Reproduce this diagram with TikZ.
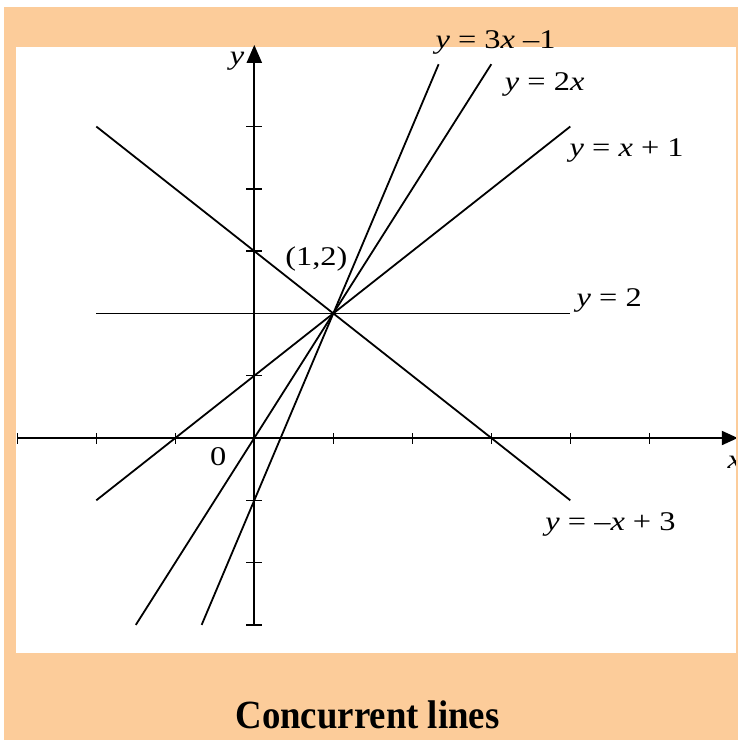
\documentclass[tikz,border=0pt]{standalone}
\usepackage{fontspec}
\setmainfont{Liberation Serif}
\usetikzlibrary{arrows.meta}
\definecolor{peach}{RGB}{252,204,154}
\newcommand{\hstretch}[1]{\scalebox{1.2}[1]{#1}}
\tikzset{
  axisline/.style={line width=2.2pt, black},
  graphline/.style={line width=1.8pt, black},
  tickmark/.style={line width=1.4pt, black},
  lab/.style={font=\fontsize{27}{31}\selectfont, inner sep=0pt, anchor=base},
  ttl/.style={font=\fontsize{40}{46}\selectfont\bfseries, inner sep=0pt, anchor=base}
}
\begin{document}
\begin{tikzpicture}
\useasboundingbox (0,0) rectangle (738pt,-740pt);
\fill[white] (0,0) rectangle (738pt,-740pt);
\fill[peach] (4pt,-7pt) rectangle (738pt,-740pt);
\fill[white] (16pt,-47pt) rectangle (735.5pt,-653pt);

\begin{scope}[shift={(254.3pt,-438pt)}, x=79pt, y=62.3pt]
  \coordinate (O) at (0,0);
  \coordinate (xL) at (-3,0);
  \coordinate (xR) at (6.12,0);
  \coordinate (yB) at (0,-3);
  \coordinate (yT) at (0,6.31);
  % axes
  \draw[axisline, -{Triangle[length=16pt,width=14pt]}] (xL) -- (xR);
  \draw[axisline, -{Triangle[length=18pt,width=15pt]}] (yB) -- (yT);
  \foreach \t in {-3,-2,-1,1,2,3,4,5} {
    \draw[tickmark] (\t,0) ++(0,-5.5pt) -- ++(0,11pt);
    \draw[tickmark] (0,\t) ++(-8pt,0) -- ++(16pt,0);
  }
  % line end points
  \coordinate (a1) at (-2,5);    \coordinate (a2) at (4,-1);
  \coordinate (b1) at (-2,2);    \coordinate (b2) at (4,2);
  \coordinate (c1) at (-2,-1);   \coordinate (c2) at (4,5);
  \coordinate (d1) at (-1.5,-3); \coordinate (d2) at (3,6);
  \coordinate (e1) at (-0.6667,-3); \coordinate (e2) at (2.3333,6);
  \draw[graphline] (a1) -- (a2);
  \draw[graphline] (b1) -- (b2);
  \draw[graphline] (c1) -- (c2);
  \draw[graphline] (d1) -- (d2);
  \draw[graphline] (e1) -- (e2);
\end{scope}

% labels
\node[lab] (l3x) at (495.5pt,-48pt) {\hstretch{\textit{y} = 3\textit{x} –1}};
\node[lab] (l2x) at (544.7pt,-90pt) {\hstretch{\textit{y} = 2\textit{x}}};
\node[lab] (lx1) at (626.7pt,-156.7pt) {\hstretch{\textit{y} = \textit{x} + 1}};
\node[lab] (l2) at (609.2pt,-306.7pt) {\hstretch{\textit{y} = 2}};
\node[lab] (lmx) at (610.5pt,-530pt) {\hstretch{\textit{y} = –\textit{x} + 3}};
\node[lab] (pt12) at (316.3pt,-265pt) {\hstretch{(1,2)}};
\node[lab] (zero) at (218.3pt,-465pt) {\hstretch{0}};
\node[lab] (ylab) at (237pt,-64pt) {\hstretch{\textit{y}}};
\node[lab, anchor=base west] (xlab) at (727.5pt,-468pt) {\hstretch{\textit{x}}};

% right edge strip over arrow tip
\fill[peach] (735.5pt,-47pt) rectangle (738pt,-653pt);

\node[ttl] (title) at (367.5pt,-728pt) {\scalebox{0.92}[1]{Concurrent lines}};
\end{tikzpicture}
\end{document}
